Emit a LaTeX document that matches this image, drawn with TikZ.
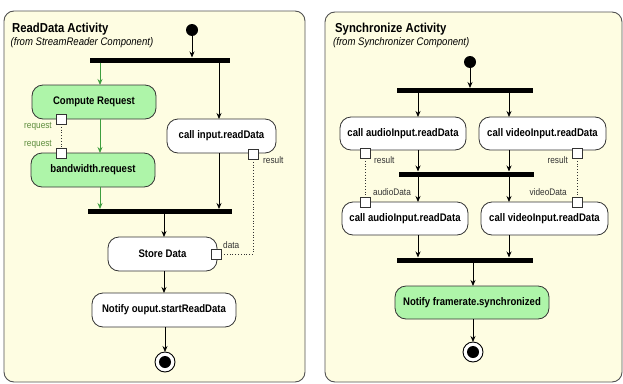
\documentclass[tikz,border=0pt]{standalone}
\usepackage{fontspec}
\setmainfont{Liberation Sans}
\newfontfamily\nar[FakeStretch=0.87]{Liberation Sans}
\usetikzlibrary{arrows.meta}
\definecolor{panelfill}{HTML}{FEFDE2}
\definecolor{greenfill}{HTML}{AEF5A9}
\definecolor{greenline}{HTML}{3E9E3E}
\definecolor{greentext}{HTML}{5C8C3C}
\definecolor{darkline}{HTML}{333333}
\tikzset{
  panel/.style={draw=darkline!85, fill=panelfill, rounded corners=10pt, line width=0.9pt},
  act/.style={draw=darkline, fill=white, rounded corners=11pt, line width=0.8pt, minimum height=34pt, inner sep=0pt, outer sep=0pt, font=\nar\bfseries\fontsize{11}{12}\selectfont},
  gact/.style={act, fill=greenfill},
  bar/.style={fill=black, inner sep=0pt, outer sep=0pt, minimum height=5pt},
  pinbox/.style={draw=darkline, fill=white, minimum size=10pt, inner sep=0pt, outer sep=0pt, line width=0.7pt},
  flow/.style={-{Stealth[length=6pt,width=5pt]}, line width=0.8pt, draw=black},
  gflow/.style={flow, draw=greenline},
  objflow/.style={dotted, line width=0.8pt, draw=darkline},
  lbl/.style={font=\nar\fontsize{9.5}{10}\selectfont, text=darkline, inner sep=0pt},
  glbl/.style={lbl, text=greentext},
  titletext/.style={font=\nar\bfseries\fontsize{13}{14}\selectfont, inner sep=0pt, anchor=base west},
  subtext/.style={font=\nar\itshape\fontsize{11}{12}\selectfont, inner sep=0pt, anchor=base west},
  initn/.style={circle, fill=black, minimum size=12pt, inner sep=0pt, outer sep=0pt},
  finn/.style={circle, draw=black, fill=white, line width=0.9pt, minimum size=20pt, inner sep=0pt, outer sep=0pt,
    path picture={\fill[black] (path picture bounding box.center) circle (6pt);}},
}
\begin{document}
\begin{tikzpicture}[x=1pt, y=-1pt]
\useasboundingbox (0,0) rectangle (623,383);
% panels
\draw[panel] (4,11) rectangle (305,382);
\draw[panel] (325,12) rectangle (622,382);
\node[titletext] (t1) at (12,32) {ReadData Activity};
\node[subtext] (s1) at (10.5,45) {(from StreamReader Component)};
\node[titletext] (t2) at (335,32) {Synchronize Activity};
\node[subtext] (s2) at (333,45) {(from Synchronizer Component)};

% ---------- left activity ----------
\node[initn] (i1) at (192,30) {};
\node[bar, minimum width=140pt] (b1) at (160,60) {};
\node[gact, minimum width=124pt] (cr) at (94,102) {Compute Request};
\node[gact, minimum width=124pt] (bw) at (93,170) {bandwidth.request};
\node[act, minimum width=109pt] (ci) at (221.5,136) {call input.readData};
\node[bar, minimum width=144pt] (b2) at (160,211.5) {};
\node[act, minimum width=109pt] (sd) at (162.5,254) {Store Data};
\node[act, minimum width=144pt] (nt) at (164,310) {Notify ouput.startReadData};
\node[finn] (f1) at (165,362) {};
\coordinate (xA) at (100,0);
\coordinate (xB) at (219,0);
\coordinate (xC) at (164,0);
\draw[flow] (i1) -- (b1.north -| i1);
\draw[gflow] (b1.south -| xA) -- (cr.north -| xA);
\draw[gflow] (cr.south -| xA) -- (bw.north -| xA);
\draw[gflow] (bw.south -| xA) -- (b2.north -| xA);
\draw[flow] (b1.south -| xB) -- (ci.north -| xB);
\draw[flow] (ci.south -| xB) -- (b2.north -| xB);
\draw[flow] (b2.south -| xC) -- (sd.north -| xC);
\draw[flow] (sd.south -| xC) -- (nt.north -| xC);
\draw[flow] (nt.south -| f1) -- (f1.north);
\node[pinbox] (p1) at (61,119) {};
\node[pinbox] (p2) at (61,153) {};
\node[pinbox] (p3) at (253,154) {};
\node[pinbox] (p4) at (216,254) {};
\draw[objflow] (p1.south) -- (p2.north);
\draw[objflow] (p3.south) |- (p4.east);
\node[glbl, anchor=base east] (l1) at (52,128) {request};
\node[glbl, anchor=base east] (l2) at (52,146.5) {request};
\node[lbl, anchor=base west] (l3) at (263,163) {result};
\node[lbl, anchor=base west] (l4) at (223,248) {data};

% ---------- right activity ----------
\node[initn] (i2) at (470,62) {};
\node[bar, minimum width=136pt] (b3) at (465,90.5) {};
\node[act, minimum width=126pt, minimum height=33pt] (a1) at (403,133.5) {call audioInput.readData};
\node[act, minimum width=127pt, minimum height=33pt] (v1) at (542.5,133.5) {call videoInput.readData};
\node[bar, minimum width=135pt] (b4) at (466.5,174) {};
\node[act, minimum width=126pt, minimum height=33pt] (a2) at (405,218.5) {call audioInput.readData};
\node[act, minimum width=127pt, minimum height=33pt] (v2) at (544.5,218.5) {call videoInput.readData};
\node[bar, minimum width=136pt] (b5) at (465,260) {};
\node[gact, minimum width=154pt, minimum height=33pt] (nf) at (472,302.5) {Notify framerate.synchronized};
\node[finn] (f2) at (473,352) {};
\coordinate (xD) at (418,0);
\coordinate (xE) at (509,0);
\coordinate (xF) at (473,0);
\draw[flow] (i2) -- (b3.north -| i2);
\draw[flow] (b3.south -| xD) -- (a1.north -| xD);
\draw[flow] (b3.south -| xE) -- (v1.north -| xE);
\draw[flow] (a1.south -| xD) -- (b4.north -| xD);
\draw[flow] (v1.south -| xE) -- (b4.north -| xE);
\draw[flow] (b4.south -| xD) -- (a2.north -| xD);
\draw[flow] (b4.south -| xE) -- (v2.north -| xE);
\draw[flow] (a2.south -| xD) -- (b5.north -| xD);
\draw[flow] (v2.south -| xE) -- (b5.north -| xE);
\draw[flow] (b5.south -| xF) -- (nf.north -| xF);
\draw[flow] (nf.south -| xF) -- (f2.north);
\node[pinbox] (q1) at (365.5,153) {};
\node[pinbox] (q2) at (577,153) {};
\node[pinbox] (q3) at (365.5,202) {};
\node[pinbox] (q4) at (577,202) {};
\draw[objflow] (q1.south) -- (q3.north);
\draw[objflow] (q2.south) -- (q4.north);
\node[lbl, anchor=base west] (m1) at (374,163) {result};
\node[lbl, anchor=base east] (m2) at (568,163) {result};
\node[lbl, anchor=base west] (m3) at (373,195) {audioData};
\node[lbl, anchor=base east] (m4) at (567,195) {videoData};
\end{tikzpicture}
\end{document}
